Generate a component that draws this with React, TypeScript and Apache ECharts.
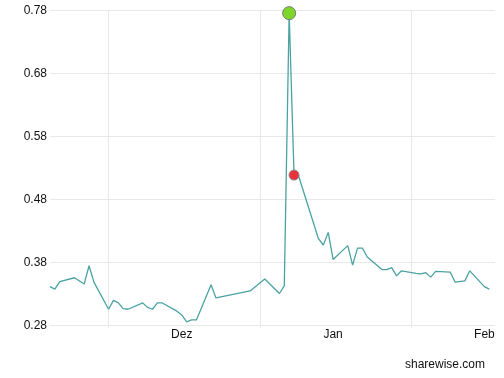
import React, { useEffect, useRef } from "react";
import * as echarts from "echarts";

// Trading days, counted in days from 1 December
const days = [-27, -26, -25, -22, -20, -19, -18, -15, -14, -13, -12, -11, -8, -7, -6, -5, -4, -1, 0, 1, 2, 3, 6, 7, 14, 17, 20, 21, 22, 23, 24, 28, 29, 30, 31, 34, 35, 36, 37, 38, 41, 42, 43, 44, 45, 48, 49, 50, 51, 52, 55, 56, 58, 59, 62, 63];
const prices = [0.341, 0.337, 0.349, 0.355, 0.345, 0.374, 0.348, 0.305, 0.319, 0.315, 0.306, 0.305, 0.315, 0.308, 0.305, 0.315, 0.315, 0.302, 0.296, 0.285, 0.288, 0.288, 0.344, 0.323, 0.334, 0.353, 0.33, 0.342, 0.775, 0.518, 0.515, 0.417, 0.407, 0.427, 0.384, 0.406, 0.375, 0.402, 0.402, 0.388, 0.368, 0.368, 0.371, 0.358, 0.366, 0.362, 0.361, 0.363, 0.356, 0.365, 0.364, 0.348, 0.35, 0.366, 0.341, 0.337];

const monthLabels = ["Dez", "Jan", "Feb"];
const monthDays = [0, 31, 62];
const gridDays = [-15, 16, 47];
const yTicks = [0.28, 0.38, 0.48, 0.58, 0.68, 0.78];
const highIndex = 28;
const lowMarkIndex = 29;

const FONT = "'Liberation Sans', Arial, Helvetica, sans-serif";

export default function App() {
  const ref = useRef<HTMLDivElement>(null);
  useEffect(() => {
    if (!ref.current) return;
    const chart = echarts.init(ref.current, null, { renderer: "svg" });
    const lineData = days.map((d, i) => [d, prices[i]]);
    chart.setOption({
      animation: false,
      grid: { left: 50, right: 9, top: 10, bottom: 53 },
      xAxis: {
        type: "value",
        min: -27,
        max: 64.17,
        axisLine: { show: false },
        axisTick: {
          show: true,
          customValues: gridDays,
          length: 3,
          lineStyle: { color: "#e8e8e8", width: 1 },
        },
        splitLine: { show: true, lineStyle: { color: "#e8e8e8", width: 1 } },
        axisLabel: {
          customValues: monthDays,
          formatter: (v: number) => monthLabels[monthDays.indexOf(Math.round(v))] ?? "",
          color: "#111",
          fontFamily: FONT,
          fontSize: 12,
          margin: 3,
        },
      },
      yAxis: {
        type: "value",
        min: 0.28,
        max: 0.78,
        axisLine: { show: false },
        axisTick: { show: false, customValues: yTicks },
        splitLine: { show: true, lineStyle: { color: "#e8e8e8", width: 1 } },
        axisLabel: {
          customValues: yTicks,
          formatter: (v: number) => v.toFixed(2),
          color: "#111",
          fontFamily: FONT,
          fontSize: 12,
          margin: 3,
        },
      },
      series: [
        {
          type: "line",
          data: lineData,
          showSymbol: false,
          symbol: "none",
          lineStyle: { color: "#4aa2a2", width: 1.3 },
          z: 2,
        },
        {
          type: "scatter",
          data: [[days[highIndex], prices[highIndex]]],
          symbolSize: 13,
          itemStyle: { color: "#7fd62a", borderColor: "#777", borderWidth: 1, opacity: 1 },
          z: 3,
        },
        {
          type: "scatter",
          data: [[days[lowMarkIndex], prices[lowMarkIndex]]],
          symbolSize: 10,
          itemStyle: { color: "#e8333a", borderColor: "#888", borderWidth: 1, opacity: 1 },
          z: 3,
        },
      ],
      graphic: [
        {
          type: "text",
          right: 19,
          top: 358,
          style: {
            text: "sharewise.com",
            fill: "#111",
            font: `12px ${FONT}`,
          },
        },
      ],
    });
    return () => chart.dispose();
  }, []);
  return <div ref={ref} style={{ width: 504, height: 378, position: "fixed", left: 0, top: 0 }} />;
}
